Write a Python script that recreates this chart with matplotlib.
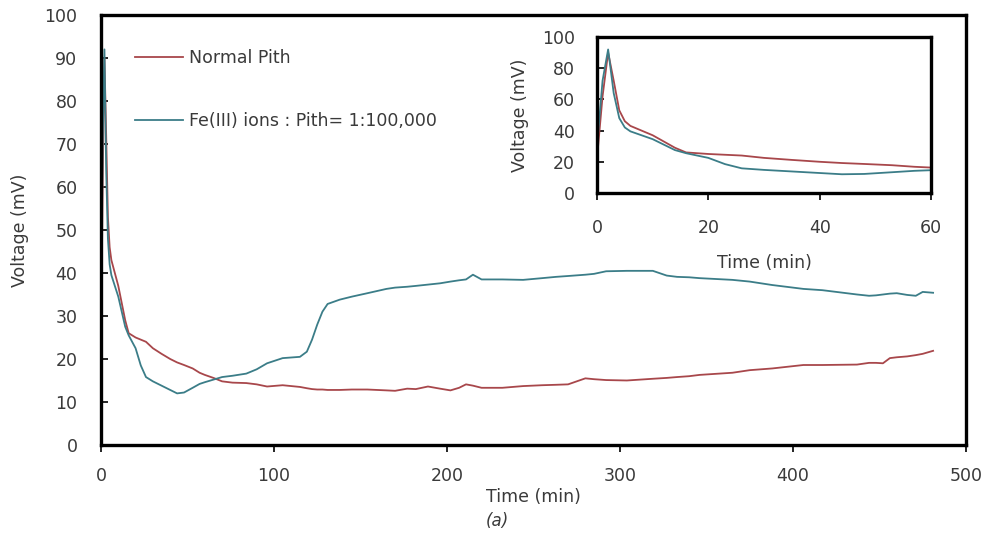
import matplotlib
matplotlib.use("Agg")
import matplotlib.pyplot as plt

# Recorded voltage response over time (minutes)
time_min = [0, 1, 2, 3, 4, 5, 6, 8, 10, 12, 14, 16, 20, 23, 26, 30, 35, 40, 44, 48,
            53, 57, 60, 65, 70, 76, 84, 90, 96, 105, 115, 119, 122, 125, 128, 131,
            138, 145, 154, 165, 170, 177, 182, 189, 196, 202, 207, 211, 215, 220,
            232, 244, 255, 263, 270, 280, 285, 292, 304, 319, 327, 333, 340, 346,
            365, 375, 388, 406, 417, 437, 444, 448, 452, 456, 460, 466, 471, 475, 481]

normal_pith = [22, 62, 90, 72, 53, 46, 43, 40, 37, 33, 29, 26, 25, 24.5, 24, 22.5, 21.2,
               20, 19.2, 18.6, 17.8, 16.8, 16.3, 15.6, 14.8, 14.5, 14.4, 14.1, 13.6,
               13.9, 13.5, 13.2, 13.0, 12.9, 12.9, 12.8, 12.8, 12.9, 12.9, 12.7, 12.6,
               13.1, 13.0, 13.6, 13.1, 12.7, 13.3, 14.1, 13.8, 13.3, 13.3, 13.7, 13.9,
               14.0, 14.1, 15.5, 15.3, 15.1, 15.0, 15.4, 15.6, 15.8, 16.0, 16.3, 16.8,
               17.4, 17.8, 18.6, 18.6, 18.7, 19.1, 19.1, 19.0, 20.2, 20.4, 20.6, 20.9,
               21.2, 21.9]

fe_pith = [30, 72, 92, 64, 48, 42, 39.5, 37, 34.5, 31, 27.5, 25.5, 22.5, 18.5, 15.8, 14.8,
           13.8, 12.8, 12, 12.2, 13.3, 14.2, 14.6, 15.2, 15.8, 16.1, 16.6, 17.6, 19,
           20.2, 20.5, 21.7, 24.5, 28, 31, 32.8, 33.8, 34.5, 35.3, 36.3, 36.6, 36.8,
           37.0, 37.3, 37.6, 38.0, 38.3, 38.5, 39.6, 38.5, 38.5, 38.4, 38.8, 39.1,
           39.3, 39.6, 39.8, 40.4, 40.5, 40.5, 39.4, 39.1, 39.0, 38.8, 38.4, 38.0,
           37.2, 36.3, 36.0, 35.0, 34.7, 34.8, 35.0, 35.2, 35.3, 34.9, 34.7, 35.6, 35.4]

series_labels = ["Normal Pith", "Fe(III) ions : Pith= 1:100,000"]
main_xticks = [0, 100, 200, 300, 400, 500]
main_yticks = [0, 10, 20, 30, 40, 50, 60, 70, 80, 90, 100]
inset_xticks = [0, 20, 40, 60]
inset_yticks = [0, 20, 40, 60, 80, 100]

RED = "#a8474b"
TEAL = "#3b7d88"
TXT = "#3a3a3a"

plt.rcParams["font.family"] = ["DejaVu Sans"]

fig = plt.figure(figsize=(9.94, 5.43), dpi=100)

ax = fig.add_axes([0.1016, 0.1805, 0.8702, 0.7919])
ax.plot(time_min, normal_pith, color=RED, lw=1.3, label=series_labels[0])
ax.plot(time_min, fe_pith, color=TEAL, lw=1.3, label=series_labels[1])
ax.set_xlim(0, 500)
ax.set_ylim(0, 100)
ax.set_xticks(main_xticks)
ax.set_yticks(main_yticks)
ax.tick_params(axis="y", direction="in", length=5, width=1.2, pad=17,
               labelsize=12.5, labelcolor=TXT)
ax.tick_params(axis="x", direction="out", length=5, width=1.2, pad=11,
               labelsize=12.5, labelcolor=TXT)
for sp in ax.spines.values():
    sp.set_linewidth(2.4)
    sp.set_color("black")
ax.set_xlabel("Time (min)", fontsize=12.5, color=TXT, labelpad=2)
ax.set_ylabel("Voltage (mV)", fontsize=12.5, color=TXT, labelpad=11)

leg = ax.legend(loc="upper left", bbox_to_anchor=(0.039, 0.92), frameon=False,
                fontsize=12.5, handlelength=2.8, handletextpad=0.3,
                labelspacing=2.55, borderaxespad=0, borderpad=0)
for txt in leg.get_texts():
    txt.set_color(TXT)

ins = fig.add_axes([0.6006, 0.6446, 0.3360, 0.2873])
ins.plot(time_min, normal_pith, color=RED, lw=1.3)
ins.plot(time_min, fe_pith, color=TEAL, lw=1.3)
ins.set_xlim(0, 60)
ins.set_ylim(0, 100)
ins.set_xticks(inset_xticks)
ins.set_yticks(inset_yticks)
ins.tick_params(axis="y", direction="in", length=5, width=1.2, pad=16,
                labelsize=12.5, labelcolor=TXT)
ins.tick_params(axis="x", direction="out", length=5, width=1.2, pad=14,
                labelsize=12.5, labelcolor=TXT)
for sp in ins.spines.values():
    sp.set_linewidth(2.4)
    sp.set_color("black")
ins.set_xlabel("Time (min)", fontsize=12.5, color=TXT, labelpad=12)
ins.set_ylabel("Voltage (mV)", fontsize=12.5, color=TXT, labelpad=9)

fig.text(0.5, 0.04, "(a)", fontsize=12, style="italic", color=TXT,
         ha="center", va="center")

fig.savefig("out.png", dpi=100)
